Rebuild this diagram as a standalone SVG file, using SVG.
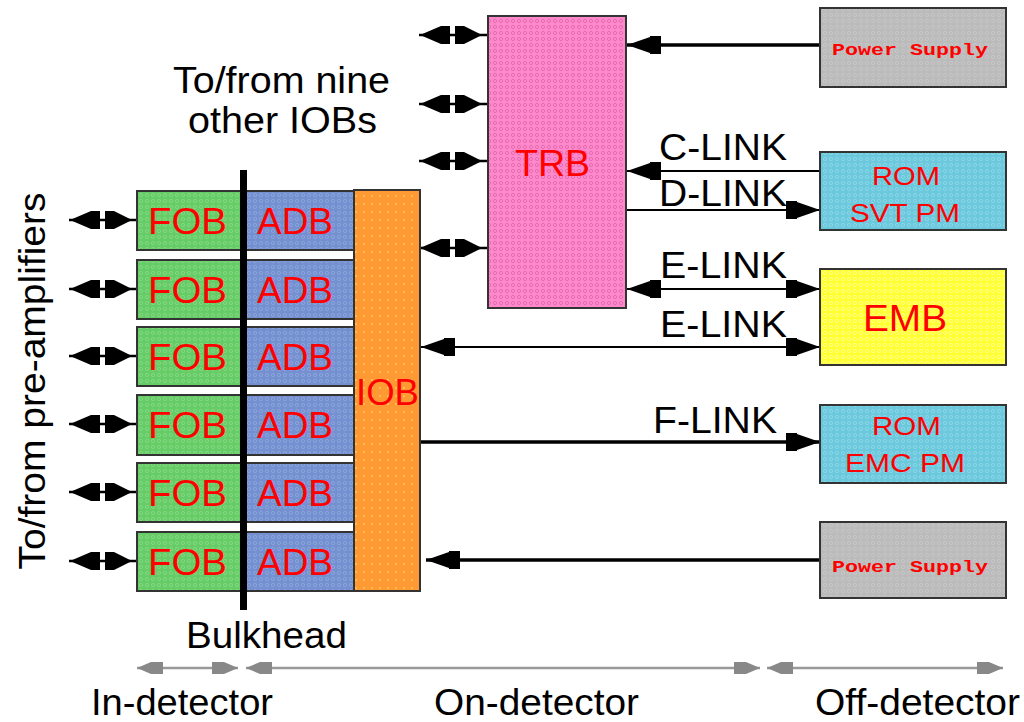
<svg xmlns="http://www.w3.org/2000/svg" width="1024" height="722" viewBox="0 0 1024 722">
<style>
.box{stroke:#333;stroke-width:2}
.red{fill:#ff0000;font-family:"Liberation Sans",Arial,sans-serif;font-size:36px}
.redm{fill:#ff0000;font-family:"Liberation Sans",Arial,sans-serif;font-size:26px}
.ps{fill:#ff0000;font-family:"Liberation Mono","Courier New",monospace;font-size:17px;font-weight:bold}
.lbl{fill:#000;font-family:"Liberation Sans",Arial,sans-serif;font-size:37px}
.thin{stroke:#000;stroke-width:2;fill:none}
.thick{stroke:#000;stroke-width:3.5;fill:none}
.scale{stroke:#999;stroke-width:2.5;fill:none}
</style>
<defs>
<pattern id="pG" width="6" height="6" patternUnits="userSpaceOnUse"><rect width="6" height="6" fill="#66cc66"/><circle cx="3" cy="3" r="1.6" fill="none" stroke="#88d888" stroke-width="0.8"/></pattern>
<pattern id="pB" width="6" height="6" patternUnits="userSpaceOnUse"><rect width="6" height="6" fill="#7490d0"/><circle cx="3" cy="3" r="1.6" fill="none" stroke="#8fa8dc" stroke-width="0.8"/></pattern>
<pattern id="pO" width="8" height="8" patternUnits="userSpaceOnUse"><rect width="8" height="8" fill="#ff9933"/><circle cx="4" cy="4" r="1" fill="#ffcc55"/></pattern>
<pattern id="pP" width="6" height="6" patternUnits="userSpaceOnUse"><rect width="6" height="6" fill="#ff88cc"/><circle cx="3" cy="3" r="1.6" fill="none" stroke="#dd66aa" stroke-width="0.8"/></pattern>
<pattern id="pC" width="6" height="6" patternUnits="userSpaceOnUse"><rect width="6" height="6" fill="#6cc8dc"/><circle cx="3" cy="3" r="1.6" fill="none" stroke="#8ed8e8" stroke-width="0.8"/></pattern>
<pattern id="pY" width="6" height="6" patternUnits="userSpaceOnUse"><rect width="6" height="6" fill="#ffff33"/><circle cx="3" cy="3" r="1.6" fill="none" stroke="#ffff99" stroke-width="0.8"/></pattern>
<pattern id="pS" width="6" height="6" patternUnits="userSpaceOnUse"><rect width="6" height="6" fill="#bbbbbb"/><circle cx="3" cy="3" r="1.6" fill="none" stroke="#c8c8c8" stroke-width="0.8"/></pattern>
<marker id="ah" markerUnits="userSpaceOnUse" markerWidth="36" markerHeight="22" refX="34" refY="10" orient="auto-start-reverse" overflow="visible">
<path d="M0,1 L11,1 L11,2 L34,10 L11,18 L11,19 L0,19 Z" fill="#000"/>
</marker>
<marker id="gh" markerUnits="userSpaceOnUse" markerWidth="28" markerHeight="14" refX="26" refY="6" orient="auto-start-reverse" overflow="visible">
<path d="M0,0 L12,0 L26,6 L12,12 L0,12 Z" fill="#888"/>
</marker>
<g id="bi">
<line x1="0" y1="0" x2="69" y2="0" stroke="#000" stroke-width="2.5"/>
<path d="M1,0 L22,-9 L31,-9 L31,9 L22,9 Z" fill="#000"/>
<path d="M36,-9 L45,-9 L63,0 L45,9 L36,9 Z" fill="#000"/>
</g>
</defs>
<rect width="1024" height="722" fill="#fff"/>

<g id="connectors">
<use href="#bi" x="69" y="220"/>
<use href="#bi" x="69" y="289"/>
<use href="#bi" x="69" y="356"/>
<use href="#bi" x="69" y="424"/>
<use href="#bi" x="69" y="492"/>
<use href="#bi" x="69" y="561"/>
<use href="#bi" x="419" y="35"/>
<use href="#bi" x="419" y="104"/>
<use href="#bi" x="419" y="161"/>
<use href="#bi" x="419" y="248"/>
<line class="thick" x1="820" y1="45" x2="627" y2="45" marker-end="url(#ah)"/>
<line class="thin" x1="820" y1="171" x2="627" y2="171" marker-end="url(#ah)"/>
<line class="thin" x1="626" y1="210" x2="820" y2="210" marker-end="url(#ah)"/>
<line class="thin" x1="627" y1="289" x2="820" y2="289" marker-start="url(#ah)" marker-end="url(#ah)"/>
<line class="thin" x1="421" y1="347" x2="820" y2="347" marker-start="url(#ah)" marker-end="url(#ah)"/>
<line class="thick" x1="420" y1="442" x2="820" y2="442" marker-end="url(#ah)"/>
<line class="thick" x1="820" y1="560" x2="426" y2="560" marker-end="url(#ah)"/>
<line class="scale" x1="137" y1="668" x2="238" y2="668" marker-start="url(#gh)" marker-end="url(#gh)"/>
<line class="scale" x1="246" y1="668" x2="760" y2="668" marker-start="url(#gh)" marker-end="url(#gh)"/>
<line class="scale" x1="767" y1="668" x2="1003" y2="668" marker-start="url(#gh)" marker-end="url(#gh)"/>
</g>

<g id="fob1"><rect class="box" x="137" y="191" width="106" height="59" fill="url(#pG)"/><text class="red" x="148" y="234" textLength="79" lengthAdjust="spacingAndGlyphs">FOB</text></g>
<g id="fob2"><rect class="box" x="137" y="260" width="106" height="59" fill="url(#pG)"/><text class="red" x="148" y="303" textLength="79" lengthAdjust="spacingAndGlyphs">FOB</text></g>
<g id="fob3"><rect class="box" x="137" y="327" width="106" height="59" fill="url(#pG)"/><text class="red" x="148" y="370" textLength="79" lengthAdjust="spacingAndGlyphs">FOB</text></g>
<g id="fob4"><rect class="box" x="137" y="395" width="106" height="60" fill="url(#pG)"/><text class="red" x="148" y="438" textLength="79" lengthAdjust="spacingAndGlyphs">FOB</text></g>
<g id="fob5"><rect class="box" x="137" y="463" width="106" height="59" fill="url(#pG)"/><text class="red" x="148" y="506" textLength="79" lengthAdjust="spacingAndGlyphs">FOB</text></g>
<g id="fob6"><rect class="box" x="137" y="532" width="106" height="59" fill="url(#pG)"/><text class="red" x="148" y="575" textLength="79" lengthAdjust="spacingAndGlyphs">FOB</text></g>

<g id="adb1"><rect class="box" x="243" y="191" width="111" height="59" fill="url(#pB)"/><text class="red" x="257" y="234" textLength="76" lengthAdjust="spacingAndGlyphs">ADB</text></g>
<g id="adb2"><rect class="box" x="243" y="260" width="111" height="59" fill="url(#pB)"/><text class="red" x="257" y="303" textLength="76" lengthAdjust="spacingAndGlyphs">ADB</text></g>
<g id="adb3"><rect class="box" x="243" y="327" width="111" height="59" fill="url(#pB)"/><text class="red" x="257" y="370" textLength="76" lengthAdjust="spacingAndGlyphs">ADB</text></g>
<g id="adb4"><rect class="box" x="243" y="395" width="111" height="60" fill="url(#pB)"/><text class="red" x="257" y="438" textLength="76" lengthAdjust="spacingAndGlyphs">ADB</text></g>
<g id="adb5"><rect class="box" x="243" y="463" width="111" height="59" fill="url(#pB)"/><text class="red" x="257" y="506" textLength="76" lengthAdjust="spacingAndGlyphs">ADB</text></g>
<g id="adb6"><rect class="box" x="243" y="532" width="111" height="59" fill="url(#pB)"/><text class="red" x="257" y="575" textLength="76" lengthAdjust="spacingAndGlyphs">ADB</text></g>

<g id="bulkhead"><rect x="240" y="170" width="7" height="440" fill="#000"/></g>

<g id="iob"><rect class="box" x="354" y="190" width="66" height="401" fill="url(#pO)"/><text class="red" x="356" y="405" textLength="63" lengthAdjust="spacingAndGlyphs">IOB</text></g>

<g id="trb"><rect class="box" x="488" y="16" width="138" height="292" fill="url(#pP)"/><text class="red" x="515" y="176" textLength="75" lengthAdjust="spacingAndGlyphs">TRB</text></g>

<g id="ps1"><rect class="box" x="820" y="8" width="186" height="79" fill="url(#pS)"/><text class="ps" x="832" y="55" textLength="156" lengthAdjust="spacingAndGlyphs">Power Supply</text></g>

<g id="romsvt"><rect class="box" x="820" y="152" width="186" height="78" fill="url(#pC)"/><text class="redm" x="872" y="185" textLength="68" lengthAdjust="spacingAndGlyphs">ROM</text><text class="redm" x="850" y="222" textLength="110" lengthAdjust="spacingAndGlyphs">SVT PM</text></g>

<g id="emb"><rect class="box" x="820" y="269" width="186" height="96" fill="url(#pY)"/><text class="red" x="863" y="331" textLength="84" lengthAdjust="spacingAndGlyphs">EMB</text></g>

<g id="romemc"><rect class="box" x="820" y="405" width="186" height="78" fill="url(#pC)"/><text class="redm" x="872" y="435" textLength="69" lengthAdjust="spacingAndGlyphs">ROM</text><text class="redm" x="845" y="472" textLength="120" lengthAdjust="spacingAndGlyphs">EMC PM</text></g>

<g id="ps2"><rect class="box" x="820" y="522" width="186" height="76" fill="url(#pS)"/><text class="ps" x="832" y="572" textLength="156" lengthAdjust="spacingAndGlyphs">Power Supply</text></g>

<g id="labels">
<text class="lbl" x="173" y="93" textLength="217" lengthAdjust="spacingAndGlyphs">To/from nine</text>
<text class="lbl" x="188" y="133" textLength="189" lengthAdjust="spacingAndGlyphs">other IOBs</text>
<text class="lbl" transform="translate(45,381) rotate(-90)" text-anchor="middle" textLength="377" lengthAdjust="spacingAndGlyphs">To/from pre-amplifiers</text>
<text class="lbl" x="659" y="160" textLength="128" lengthAdjust="spacingAndGlyphs">C-LINK</text>
<text class="lbl" x="659" y="206" textLength="128" lengthAdjust="spacingAndGlyphs">D-LINK</text>
<text class="lbl" x="660" y="278" textLength="127" lengthAdjust="spacingAndGlyphs">E-LINK</text>
<text class="lbl" x="660" y="337" textLength="127" lengthAdjust="spacingAndGlyphs">E-LINK</text>
<text class="lbl" x="653" y="433" textLength="124" lengthAdjust="spacingAndGlyphs">F-LINK</text>
<text class="lbl" x="186" y="648" textLength="161" lengthAdjust="spacingAndGlyphs">Bulkhead</text>
<text class="lbl" x="91" y="715" textLength="182" lengthAdjust="spacingAndGlyphs">In-detector</text>
<text class="lbl" x="434" y="715" textLength="205" lengthAdjust="spacingAndGlyphs">On-detector</text>
<text class="lbl" x="815" y="715" textLength="205" lengthAdjust="spacingAndGlyphs">Off-detector</text>
</g>
</svg>
